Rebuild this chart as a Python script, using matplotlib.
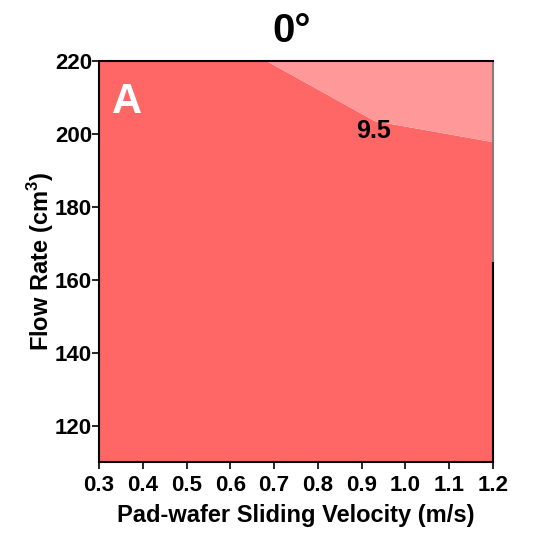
import numpy as np
import matplotlib
matplotlib.use("Agg")
import matplotlib.pyplot as plt

plt.rcParams['font.family'] = ['Liberation Sans', 'DejaVu Sans']
plt.rcParams['font.weight'] = 'bold'
plt.rcParams['mathtext.fontset'] = 'custom'
plt.rcParams['mathtext.bf'] = 'Liberation Sans:bold'

# Grid of sliding velocity (m/s) and flow rate (cm^3)
velocity = [0.3, 0.6, 0.93, 1.2]
flow_rate = [110, 165, 220]
# Response values at the grid nodes (rows follow flow_rate)
response = [
    [8.6, 8.7, 8.5, 8.6],
    [8.7, 8.9, 8.8, 9.0],
    [9.2, 9.4, 9.80, 9.84],
]
levels = [8.0, 9.5, 10.0]
fill_colors = ['#FF6666', '#FF9999']
label_level = 9.5
label_pos = (0.928, 200.8)

x_ticks = [0.3, 0.4, 0.5, 0.6, 0.7, 0.8, 0.9, 1.0, 1.1, 1.2]
y_ticks = [120, 140, 160, 180, 200, 220]

fig = plt.figure(figsize=(5.33, 5.33), dpi=100)
ax = fig.add_axes([0.1857, 0.1332, 0.7392, 0.7524])

X, Y = np.meshgrid(velocity, flow_rate)
ax.contourf(X, Y, np.array(response), levels=levels, colors=fill_colors, antialiased=True)

ax.text(label_pos[0], label_pos[1], f"{label_level:g}", fontsize=18, fontweight='bold',
        ha='center', va='center', color='black')
ax.text(0.033, 0.948, "A", transform=ax.transAxes, fontsize=30, fontweight='bold',
        color='white', ha='left', va='top')

ax.set_xlim(0.3, 1.2)
ax.set_ylim(110, 220)
ax.set_xticks(x_ticks)
ax.set_xticklabels([f"{v:.1f}" for v in x_ticks])
ax.set_yticks(y_ticks)
ax.tick_params(direction='out', length=5, width=1.2, labelsize=16)
ax.tick_params(axis='x', pad=4)
ax.tick_params(axis='y', pad=0)
for lab in ax.get_xticklabels() + ax.get_yticklabels():
    lab.set_fontweight('bold')

ax.set_xlabel("Pad-wafer Sliding Velocity (m/s)", fontsize=17, fontweight='bold', labelpad=6)
ax.set_ylabel("Flow Rate (cm$^\\mathbf{3}$)", fontsize=17, fontweight='bold', labelpad=-1)
ax.set_title("0°", fontsize=29, fontweight='bold', pad=14, x=0.488)

for side in ['left', 'bottom', 'top']:
    ax.spines[side].set_linewidth(1.5)
ax.spines['right'].set_visible(False)
ax.plot([1, 1], [0, 0.5], transform=ax.transAxes, color='black', lw=1.5, clip_on=False)
ax.plot([1, 1], [0.5, 1], transform=ax.transAxes, color='#8a7c7c', lw=1.5, clip_on=False)

fig.savefig("out.png", dpi=100)
